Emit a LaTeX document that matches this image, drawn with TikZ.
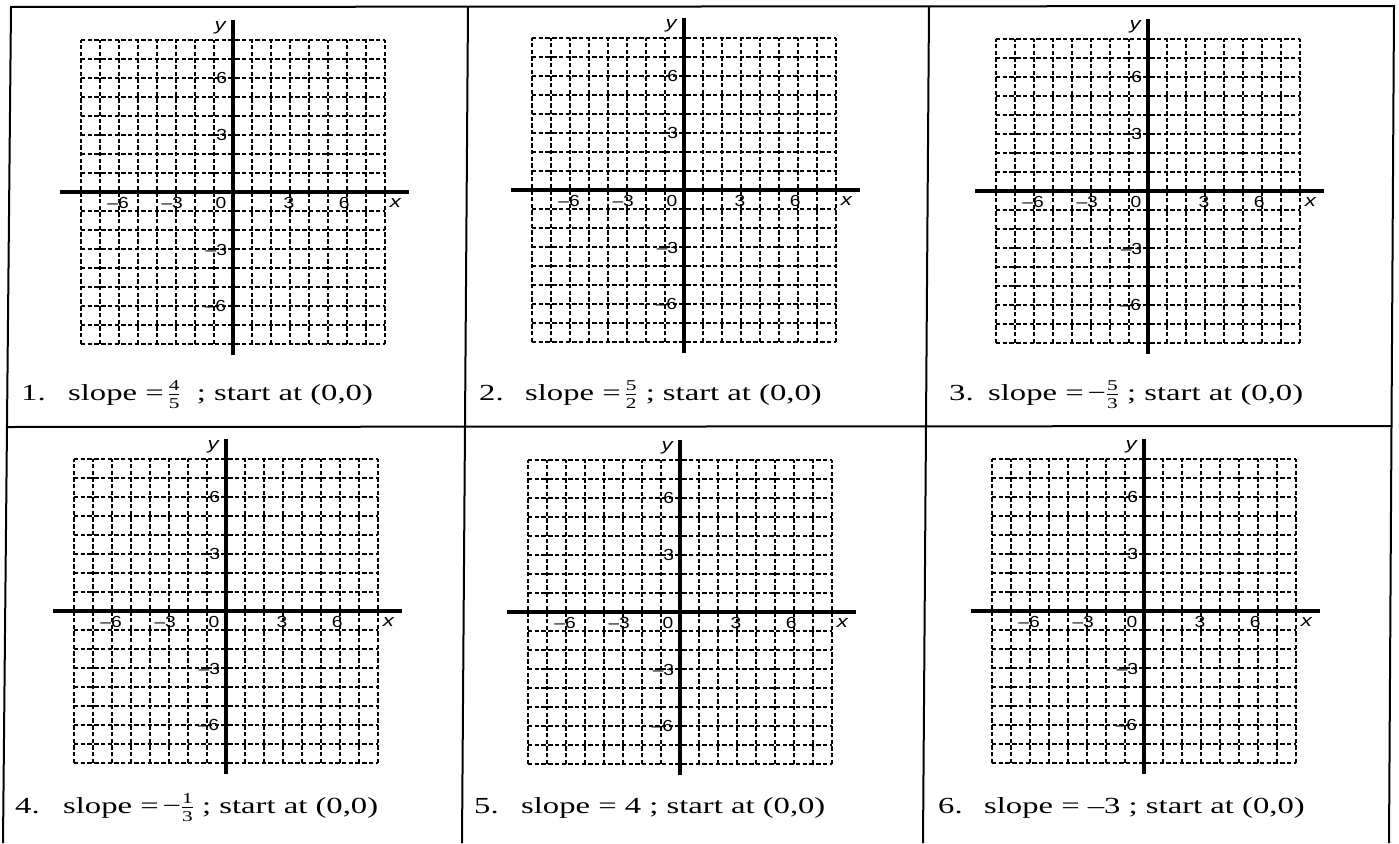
\documentclass[tikz,border=0pt]{standalone}
\usepackage{fontspec}
\setmainfont[FakeStretch=1.42]{Liberation Serif}
\newfontfamily\axfont[FakeStretch=1.2]{Liberation Sans}
\newfontfamily\varfont[FakeStretch=1.3]{Liberation Sans}
\tikzset{
  gridln/.style={line width=1.25pt, dash pattern=on 4.4pt off 2.3pt},
  axisln/.style={line width=3.3pt},
  framel/.style={line width=2pt},
  xlbl/.style={font=\axfont\fontsize{16}{16}\selectfont, inner sep=0pt},
  ylbl/.style={font=\axfont\fontsize{16}{16}\selectfont, inner sep=0pt, anchor=east},
  varlbl/.style={font=\varfont\itshape\fontsize{17}{17}\selectfont, inner sep=0pt},
  numlbl/.style={font=\fontsize{23}{26}\selectfont, anchor=base west, inner sep=0pt},
  slopelbl/.style={font=\fontsize{23}{26}\selectfont, anchor=base west, inner sep=0pt}
}
\newcommand\fr[2]{$\frac{\hbox{\fontsize{15}{15}\selectfont #1}}{\hbox{\fontsize{15}{15}\selectfont #2}}$}
\newcommand\plotgrid[3]{%
\begin{scope}[shift={(#1,#2)}, x=19pt, y=19pt]
  \foreach \i in {-8,...,8} {
    \draw[gridln] (\i,-8) -- (\i,8);
    \draw[gridln] (-8,\i) -- (8,\i);
  }
  \coordinate (#3xl) at (-9.1,0);
  \coordinate (#3xr) at (9.25,0);
  \coordinate (#3yb) at (0,-8.6);
  \coordinate (#3yt) at (0,9.05);
  \draw[axisln] (#3xl) -- (#3xr);
  \draw[axisln] (#3yb) -- (#3yt);
  \node[varlbl] (#3y) at (-0.68,8.65) {y};
  \node[varlbl] (#3x) at (8.55,-0.58) {x};
  \node[xlbl] (#3xm6) at (-6.05,-0.6) {–6};
  \node[xlbl] (#3xm3) at (-3.2,-0.6) {–3};
  \node[xlbl] (#3x0) at (-0.63,-0.6) {0};
  \node[xlbl] (#3x3) at (2.95,-0.6) {3};
  \node[xlbl] (#3x6) at (5.85,-0.6) {6};
  \node[ylbl] (#3y6) at (-0.3,6) {6};
  \node[ylbl] (#3y3) at (-0.3,3) {3};
  \node[ylbl] (#3ym3) at (-0.3,-3.05) {–3};
  \node[ylbl] (#3ym6) at (-0.35,-6) {–6};
\end{scope}}
\begin{document}
\begin{tikzpicture}[x=1pt, y=-1pt]
  \useasboundingbox[fill=white] (0,0) rectangle (1399,843);
  % table frame (slightly skewed, as scanned)
  \coordinate (tl) at (11,7);
  \coordinate (tr) at (1394,6);
  \coordinate (bl) at (3,843);
  \coordinate (br) at (1389,843);
  \coordinate (d1t) at (468,7);
  \coordinate (d1b) at (462,843);
  \coordinate (d2t) at (929,6);
  \coordinate (d2b) at (923,843);
  \coordinate (ml) at (7,427);
  \coordinate (mr) at (1391,426);
  \draw[framel] (bl) -- (tl) -- (tr) -- (br);
  \draw[framel] (d1t) -- (d1b);
  \draw[framel] (d2t) -- (d2b);
  \draw[framel] (ml) -- (mr);
  % graphs
  \plotgrid{233}{192}{ga}
  \plotgrid{684}{190}{gb}
  \plotgrid{1148}{191}{gc}
  \plotgrid{226}{611}{gd}
  \plotgrid{680}{612}{ge}
  \plotgrid{1144}{611}{gf}
  % labels
  \node[numlbl] (n1) at (21,400) {1.};
  \node[slopelbl] (s1) at (68,400) {slope =\,\fr{4}{5}\ \ ; start at (0,0)};
  \node[numlbl] (n2) at (479,400) {2.};
  \node[slopelbl] (s2) at (525,400) {slope =\,\fr{5}{2} ; start at (0,0)};
  \node[numlbl] (n3) at (949,400) {3.};
  \node[slopelbl] (s3) at (988,400) {slope =\,−\fr{5}{3} ; start at (0,0)};
  \node[numlbl] (n4) at (15,813) {4.};
  \node[slopelbl] (s4) at (63,813) {slope =\,−\fr{1}{3} ; start at (0,0)};
  \node[numlbl] (n5) at (474,813) {5.};
  \node[slopelbl] (s5) at (521,813) {slope = 4 ; start at (0,0)};
  \node[numlbl] (n6) at (938,813) {6.};
  \node[slopelbl] (s6) at (984,813) {slope = –3 ; start at (0,0)};
\end{tikzpicture}
\end{document}
